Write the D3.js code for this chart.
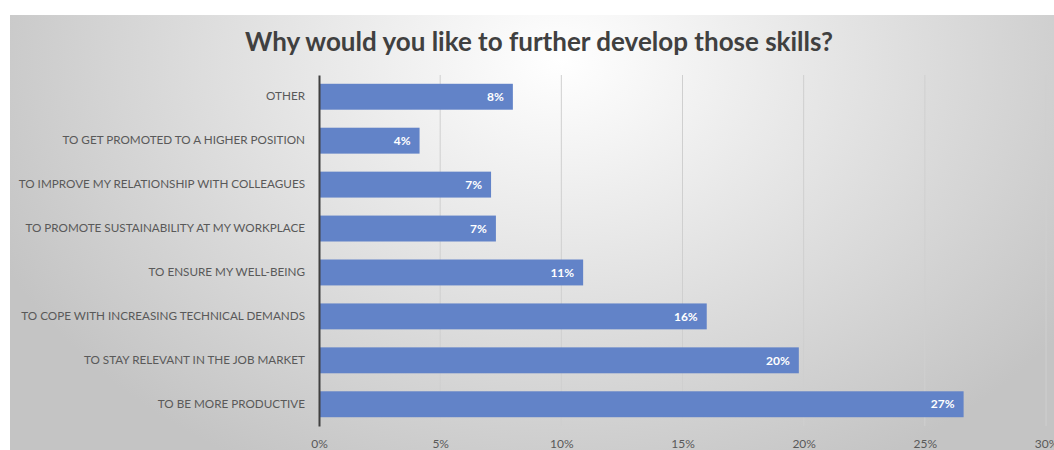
<!DOCTYPE html>
<html>
<head>
<meta charset="utf-8">
<script src="https://cdn.jsdelivr.net/npm/d3@7"></script>
<style>
  body { margin: 0; background: #fff; }
  svg { display: block; font-family: Lato, "Open Sans", sans-serif; }
</style>
</head>
<body>
<div id="chart"></div>
<script>
var title = "Why would you like to further develop those skills?";
var categories = [
  "OTHER",
  "TO GET PROMOTED TO A HIGHER POSITION",
  "TO IMPROVE MY RELATIONSHIP WITH COLLEAGUES",
  "TO PROMOTE SUSTAINABILITY AT MY WORKPLACE",
  "TO ENSURE MY WELL-BEING",
  "TO COPE WITH INCREASING TECHNICAL DEMANDS",
  "TO STAY RELEVANT IN THE JOB MARKET",
  "TO BE MORE PRODUCTIVE"
];
var values = [8.0, 4.15, 7.1, 7.3, 10.9, 16.0, 19.8, 26.6];
var valueLabels = ["8%", "4%", "7%", "7%", "11%", "16%", "20%", "27%"];
var ticks = [0, 5, 10, 15, 20, 25, 30];

var width = 1054, height = 450;
var svg = d3.select("#chart").append("svg").attr("width", width).attr("height", height);

// background gradient like the office chart area
var defs = svg.append("defs");
var grad = defs.append("radialGradient")
  .attr("id", "bg")
  .attr("gradientUnits", "userSpaceOnUse")
  .attr("cx", 560).attr("cy", 60).attr("r", 620)
  .attr("gradientTransform", "translate(560,60) scale(1,0.75) translate(-560,-60)");
grad.append("stop").attr("offset", "0%").attr("stop-color", "#ffffff");
grad.append("stop").attr("offset", "100%").attr("stop-color", "#c4c4c4");

svg.append("rect").attr("x", 10).attr("y", 15).attr("width", width - 10).attr("height", height - 15)
  .attr("fill", "url(#bg)");

var x = d3.scaleLinear().domain([0, 30]).range([319, 1046]);
var y = d3.scaleBand().domain(categories).range([75, 426]).paddingInner(0.41).paddingOuter(0.2);

// gridlines
svg.append("g").selectAll("line").data(ticks.slice(1)).enter().append("line")
  .attr("x1", function(d){ return x(d); })
  .attr("x2", function(d){ return x(d); })
  .attr("y1", 75).attr("y2", 426)
  .attr("stroke", "#cfcfcf").attr("stroke-width", 1);

// bars
svg.append("g").selectAll("rect").data(values).enter().append("rect")
  .attr("x", x(0))
  .attr("y", function(d, i){ return y(categories[i]); })
  .attr("width", function(d){ return x(d) - x(0); })
  .attr("height", y.bandwidth())
  .attr("fill", "#6283c8");

// value labels
svg.append("g").selectAll("text").data(values).enter().append("text")
  .attr("x", function(d){ return x(d) - 9; })
  .attr("y", function(d, i){ return y(categories[i]) + y.bandwidth() / 2; })
  .attr("dy", "0.35em")
  .attr("text-anchor", "end")
  .attr("fill", "#ffffff")
  .attr("font-weight", "bold")
  .attr("font-size", 12)
  .text(function(d, i){ return valueLabels[i]; });

// y axis
var yAxis = svg.append("g").attr("transform", "translate(" + x(0) + ",0)")
  .call(d3.axisLeft(y).tickSize(0).tickPadding(14));
yAxis.select(".domain").attr("stroke", "#404040").attr("stroke-width", 2);
yAxis.selectAll("text").attr("fill", "#595959").attr("font-size", 11.7)
  .attr("font-family", "Lato, 'Open Sans', sans-serif");

// x axis
var xAxis = svg.append("g").attr("transform", "translate(0,426)")
  .call(d3.axisBottom(x).tickValues(ticks).tickSize(0).tickPadding(13)
    .tickFormat(function(d){ return d + "%"; }));
xAxis.select(".domain").remove();
xAxis.selectAll("text").attr("fill", "#595959").attr("font-size", 12)
  .attr("font-family", "Lato, 'Open Sans', sans-serif");

// title
svg.append("text")
  .attr("x", 539).attr("y", 51)
  .attr("text-anchor", "middle")
  .attr("fill", "#404040")
  .attr("font-size", 26)
  .attr("font-weight", "bold")
  .text(title);
</script>
</body>
</html>
